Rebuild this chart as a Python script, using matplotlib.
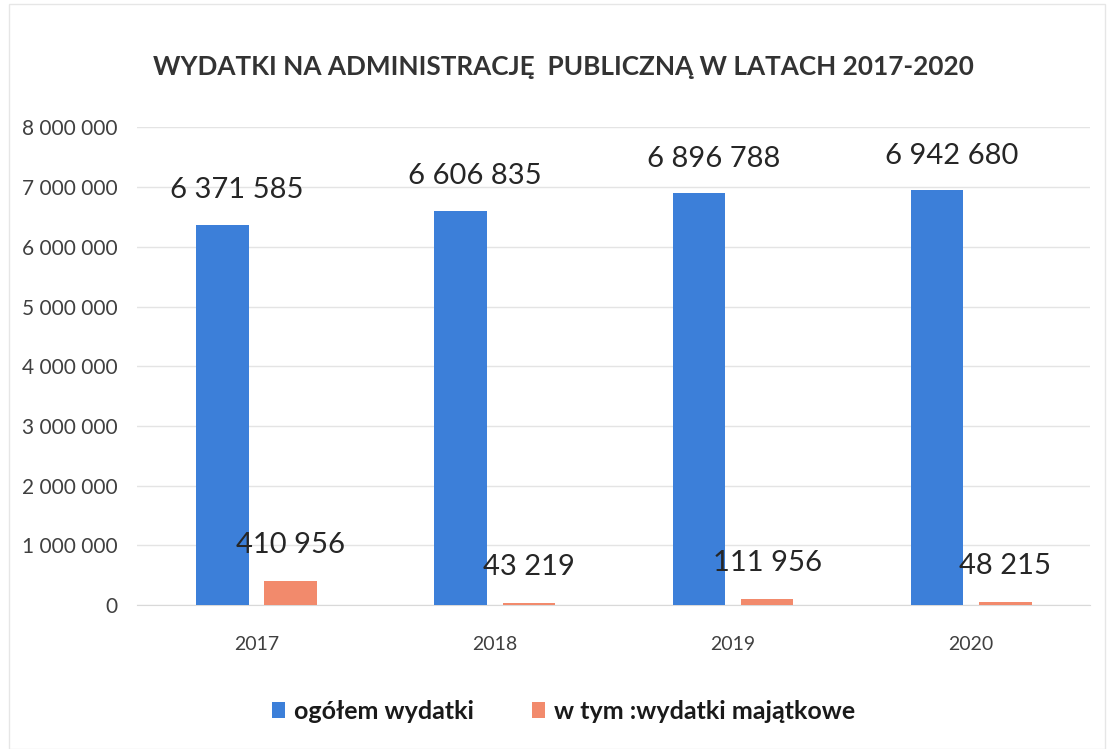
"""Wydatki na administrację publiczną 2017-2020 - grouped bar chart."""

import matplotlib.pyplot as plt
import numpy as np

# Data
years = ['2017', '2018', '2019', '2020']
total_spending = [6371585, 6606835, 6896788, 6942680]
capital_spending = [410956, 43219, 111956, 48215]
series_names = ['ogółem wydatki', 'w tym :wydatki majątkowe']
y_ticks = [0, 1000000, 2000000, 3000000, 4000000, 5000000, 6000000, 7000000, 8000000]

BLUE = '#3c7fd9'
ORANGE = '#f28a6c'
TEXT = '#262626'
FONT = ['Lato', 'DejaVu Sans']


def fmt(v):
    """Polish-style thousands separator (space)."""
    return f'{v:,}'.replace(',', ' ')


fig = plt.figure(figsize=(11.07, 7.49), dpi=100)
ax = fig.add_axes([0.124, 0.192, 0.861, 0.638])

x = np.arange(len(years))
width = 0.22
offset = 0.143

ax.bar(x - offset, total_spending, width, color=BLUE, label=series_names[0], zorder=3)
ax.bar(x + offset, capital_spending, width, color=ORANGE, label=series_names[1], zorder=3)

# value labels above bars
for xi, v in zip(x, total_spending):
    ax.text(xi - offset + 0.06, v + 580000, fmt(v), ha='center', va='center',
            fontsize=21, color=TEXT, family=FONT)
for xi, v in zip(x, capital_spending):
    ax.text(xi + offset, v + 600000, fmt(v), ha='center', va='center',
            fontsize=21, color=TEXT, family=FONT)

ax.set_xlim(-0.5, 3.5)
ax.set_ylim(0, 8000000)
ax.set_yticks(y_ticks)
ax.set_yticklabels([fmt(t) for t in y_ticks], family=FONT, fontsize=15, color='#404040')
ax.set_xticks(x)
ax.set_xticklabels(years, family=FONT, fontsize=14, color='#404040')
ax.tick_params(length=0, pad=14)
ax.tick_params(axis='x', pad=22)

ax.grid(axis='y', color='#e4e4e4', linewidth=1, zorder=0)
for side in ['top', 'right', 'left']:
    ax.spines[side].set_visible(False)
ax.spines['bottom'].set_color('#d9d9d9')

fig.text(0.509, 0.91, 'WYDATKI NA ADMINISTRACJĘ  PUBLICZNĄ W LATACH 2017-2020',
         ha='center', va='center', fontsize=18.8, fontweight='bold', color='#333333',
         family=FONT)

fig.legend(loc='center', bbox_to_anchor=(0.509, 0.05), ncol=2, frameon=False,
           prop={'family': FONT, 'size': 18, 'weight': 'bold'},
           handlelength=0.55, handleheight=0.6, handletextpad=0.35, columnspacing=2.3,
           labelcolor='#1a1a1a')

# thin outer chart frame
fig.add_artist(plt.Rectangle((0.008, 0.0), 0.99, 0.995, transform=fig.transFigure,
                             fill=False, edgecolor='#e6e6e6', linewidth=1))

fig.savefig('out.png', dpi=100)
